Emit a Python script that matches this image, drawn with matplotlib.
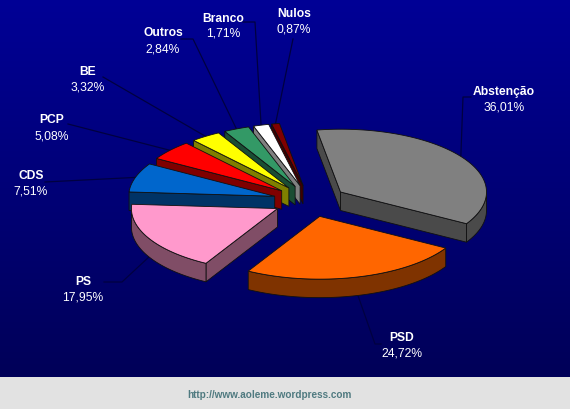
import numpy as np
import matplotlib
matplotlib.use("Agg")
import matplotlib.pyplot as plt
from matplotlib.patches import Polygon, Rectangle

categories = ["Abstenção", "PSD", "PS", "CDS", "PCP", "BE", "Outros", "Branco", "Nulos"]
values = [36.01, 24.72, 17.95, 7.51, 5.08, 3.32, 2.84, 1.71, 0.87]
value_labels = ["36,01%", "24,72%", "17,95%", "7,51%", "5,08%", "3,32%", "2,84%", "1,71%", "0,87%"]
top_colors = ["#808080", "#ff6600", "#ff99cc", "#0066cc", "#ff0000", "#ffff00", "#339966", "#ffffff", "#800000"]
side_colors = ["#4a4a4a", "#7f3300", "#804d66", "#003366", "#7f0000", "#7f7f00", "#1a4d33", "#808080", "#400000"]
label_xy = [(504, 92), (402, 338), (83, 282), (31, 176), (52, 120), (88, 72), (163, 33), (223, 19), (294, 14)]
line_gap = [16, 16, 16, 16, 17, 16, 16, 15, 16]
elbows = [[(463, 98), (471, 98)], [(375, 345), (381, 345)], [(122, 283), (104, 283)], [(45, 183)],
          [(68, 125)], [(103, 78)], [(193, 40), (181, 40)], [(255, 23), (243, 23)], [(293, 40)]]
leader_on_side = [False, True, True, False, False, False, False, False, False]

CX, CY, R, SQ, EXPL, DEPTH, START = 310, 202, 146, 0.43, 37, 18.5, -9.3
draw_order = [8, 7, 6, 5, 4, 3, 0, 2, 1]

fig = plt.figure(figsize=(5.7, 4.1), dpi=100)
ax = fig.add_axes([0, 0, 1, 1])
ax.set_xlim(0, 570)
ax.set_ylim(410, 0)
ax.axis("off")

grad = np.zeros((256, 1, 3))
grad[:, 0, 2] = np.linspace(0x96, 0x58, 256) / 255
ax.imshow(grad, extent=(0, 570, 378, 0), aspect="auto", zorder=0)
ax.set_xlim(0, 570)
ax.set_ylim(410, 0)
ax.add_patch(Rectangle((0, 378), 570, 32, fc="#e2e2e2", ec="none", zorder=0))


def pt(theta, r, ox=0.0, oy=0.0):
    t = np.radians(theta)
    return ox + r * np.sin(t), oy - r * SQ * np.cos(t)


edges = START + np.concatenate([[0], np.cumsum(values)]) * 360 / sum(values)
z = 2


def wall(seg, color):
    global z
    seg = np.asarray(seg)
    keep = []
    for a, b in zip(seg[:-1], seg[1:]):
        if b[0] < a[0]:
            keep.append(a)
            last = b
    if not keep:
        return
    keep = np.array(keep + [last])
    poly = np.vstack([keep, (keep + [0, DEPTH])[::-1]])
    ax.add_patch(Polygon(poly, closed=True, fc=color, ec="#101010", lw=0.6, zorder=z))
    z += 1


geom = {}
for i in range(len(values)):
    a0, a1 = edges[i], edges[i + 1]
    mid = (a0 + a1) / 2
    ox, oy = pt(mid, EXPL, CX, CY)
    th = np.linspace(a0, a1, 80)
    arc = np.column_stack(pt(th, R, ox, oy))
    geom[i] = ((ox, oy), arc, mid)

# leader lines lie beneath the slices
for i in range(len(values)):
    (ox, oy), arc, mid = geom[i]
    sx, sy = pt(mid, R, ox, oy)
    if leader_on_side[i]:
        sy += DEPTH
    xs = [sx] + [p[0] for p in elbows[i]]
    ys = [sy] + [p[1] for p in elbows[i]]
    ax.plot(xs, ys, color="#000040", lw=0.9, zorder=1)

for i in draw_order:
    (ox, oy), arc, mid = geom[i]
    apex = np.array([[ox, oy]])
    wall(np.vstack([apex, arc[:1]]), side_colors[i])
    wall(np.vstack([arc[-1:], apex]), side_colors[i])
    wall(arc, side_colors[i])
    ax.add_patch(Polygon(np.vstack([apex, arc]), closed=True, fc=top_colors[i],
                         ec="#101010", lw=0.6, zorder=z))
    z += 1

font = "Liberation Sans"
for i, name in enumerate(categories):
    x, y = label_xy[i]
    ax.text(x, y, name, color="white", fontsize=8.7, fontweight="bold", family=font,
            ha="center", va="center", zorder=50)
    ax.text(x, y + line_gap[i], value_labels[i], color="white", fontsize=8.7, family=font,
            ha="center", va="center", zorder=50)

ax.text(269, 395, "http://www.aoleme.wordpress.com", color="#4f7a80", fontsize=7.2,
        fontweight="bold", family=font, ha="center", va="center", zorder=50)

fig.savefig("out.png", dpi=100)
